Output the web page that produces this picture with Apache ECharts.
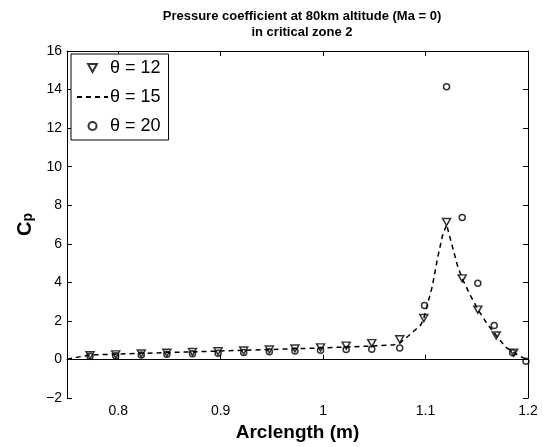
<!DOCTYPE html>
<html>
<head>
<meta charset="utf-8">
<script src="https://cdn.jsdelivr.net/npm/echarts@6/dist/echarts.min.js"></script>
<style>html,body{margin:0;padding:0;background:#fff}#c{width:542px;height:447px}</style>
</head>
<body>
<div id="c"></div>
<script>
var xTicks = [0.8, 0.9, 1.0, 1.1, 1.2];
var theta12X = [0.7725, 0.7975, 0.8225, 0.8475, 0.8725, 0.8975, 0.9225, 0.9475, 0.9725, 0.9975, 1.0225, 1.0475, 1.0748, 1.0983, 1.1205, 1.1358, 1.151, 1.169, 1.186];
var theta12Y = [0.22, 0.27, 0.31, 0.35, 0.39, 0.43, 0.47, 0.52, 0.57, 0.63, 0.72, 0.85, 1.05, 2.15, 7.13, 4.21, 2.59, 1.25, 0.36];
var theta15X = [0.75, 0.7725, 0.7975, 0.8225, 0.8475, 0.8725, 0.8975, 0.9225, 0.9475, 0.9725, 0.9975, 1.0225, 1.0475, 1.0687, 1.0748, 1.085, 1.0954, 1.0983, 1.1066, 1.1115, 1.1164, 1.1205, 1.126, 1.131, 1.1358, 1.144, 1.151, 1.160, 1.169, 1.178, 1.186, 1.2];
var theta15Y = [0.02, 0.24, 0.28, 0.32, 0.36, 0.40, 0.44, 0.48, 0.52, 0.56, 0.60, 0.65, 0.70, 0.76, 0.85, 1.3, 1.8, 2.15, 3.8, 5.2, 6.4, 7.0, 5.9, 4.9, 4.2, 3.3, 2.6, 1.86, 1.25, 0.65, 0.36, -0.05];
var theta20X = [0.7725, 0.7975, 0.8225, 0.8475, 0.8725, 0.8975, 0.9225, 0.9475, 0.9725, 0.9975, 1.0225, 1.0475, 1.0748, 1.099, 1.1205, 1.1358, 1.151, 1.167, 1.185, 1.198];
var theta20Y = [0.17, 0.20, 0.24, 0.27, 0.30, 0.33, 0.37, 0.41, 0.44, 0.48, 0.52, 0.53, 0.60, 2.8, 14.14, 7.36, 3.95, 1.77, 0.35, -0.09];

function pairs(xs, ys) { return xs.map(function (x, i) { return [x, ys[i]]; }); }

var FONT = 'Liberation Sans, Arial, sans-serif';
var chart = echarts.init(document.getElementById('c'), null, {renderer: 'canvas'});
var axisLineStyle = {color: '#000', width: 1};
chart.setOption({
  animation: false,
  backgroundColor: '#fff',
  title: {
    text: 'Pressure coefficient at 80km altitude (Ma = 0)\nin critical zone 2',
    left: 297, top: 3, textAlign: 'center',
    textStyle: {fontFamily: FONT, fontSize: 13, fontWeight: 'bold', color: '#000', lineHeight: 16}
  },
  grid: {left: 67, right: 14, top: 51, bottom: 47, containLabel: false},
  legend: {
    orient: 'vertical', left: 71, top: 54,
    padding: [4, 8, 4, 5], itemGap: 9, itemWidth: 31, itemHeight: 8,
    symbolRotate: 0,
    borderColor: '#000', borderWidth: 1, backgroundColor: '#fff',
    textStyle: {fontFamily: FONT, fontSize: 18, color: '#000', lineHeight: 20, padding: [0, 0, 0, -3]},
    data: [
      {name: 'θ = 12', icon: 'path://M0,0L10,0L5,9Z'},
      {name: 'θ = 15', itemStyle: {opacity: 0}},
      {name: 'θ = 20'}
    ]
  },
  xAxis: [{
    type: 'value', min: 0.75, max: 1.2, position: 'bottom',
    name: 'Arclength (m)', nameLocation: 'middle', nameGap: 21,
    nameTextStyle: {fontFamily: FONT, fontSize: 19, fontWeight: 'bold', color: '#000'},
    axisLine: {show: true, lineStyle: axisLineStyle},
    axisTick: {show: true, inside: true, length: 5, lineStyle: axisLineStyle, customValues: xTicks},
    axisLabel: {show: true, margin: 6, fontFamily: FONT, fontSize: 14, color: '#000', customValues: xTicks},
    splitLine: {show: false}
  }, {
    type: 'value', min: 0.75, max: 1.2, position: 'top',
    axisLine: {show: true, onZero: false, lineStyle: axisLineStyle},
    axisTick: {show: true, inside: true, length: 5, lineStyle: axisLineStyle, customValues: xTicks},
    axisLabel: {show: false},
    splitLine: {show: false}
  }],
  yAxis: [{
    type: 'value', min: -2, max: 16, interval: 2, position: 'left',
    name: '{c|C}{p|p}', nameLocation: 'middle', nameGap: 26, nameRotate: 90,
    nameTextStyle: {
      rich: {
        c: {fontFamily: FONT, fontSize: 20, fontWeight: 'bold', color: '#000', lineHeight: 20, verticalAlign: 'top'},
        p: {fontFamily: FONT, fontSize: 14, fontWeight: 'bold', color: '#000', lineHeight: 14, verticalAlign: 'bottom', padding: [12, 0, 0, 0]}
      }
    },
    axisLine: {show: true, onZero: false, lineStyle: axisLineStyle},
    axisTick: {show: true, inside: true, length: 5, lineStyle: axisLineStyle},
    axisLabel: {show: true, margin: 5, fontFamily: FONT, fontSize: 14, color: '#000',
      formatter: function (v) { return String(v).replace('-', '\u2212'); }},
    splitLine: {show: false}
  }, {
    type: 'value', min: -2, max: 16, interval: 2, position: 'right',
    axisLine: {show: true, onZero: false, lineStyle: axisLineStyle},
    axisTick: {show: true, inside: true, length: 5, lineStyle: axisLineStyle},
    axisLabel: {show: false},
    splitLine: {show: false}
  }],
  series: [{
    name: 'θ = 15', type: 'line', xAxisIndex: 0, yAxisIndex: 0,
    data: pairs(theta15X, theta15Y),
    symbol: 'none', showSymbol: false,
    lineStyle: {color: '#000', width: 1.5, type: [5, 4]},
    itemStyle: {color: '#000'}, z: 2
  }, {
    name: 'θ = 12', type: 'scatter', xAxisIndex: 0, yAxisIndex: 0,
    data: pairs(theta12X, theta12Y),
    symbol: 'triangle', symbolSize: [8, 7], symbolRotate: 180,
    itemStyle: {color: 'transparent', borderColor: '#000', borderWidth: 1.5}, z: 3
  }, {
    name: 'θ = 20', type: 'scatter', xAxisIndex: 0, yAxisIndex: 0,
    data: pairs(theta20X, theta20Y),
    symbol: 'circle', symbolSize: 6,
    itemStyle: {color: 'transparent', borderColor: '#000', borderWidth: 1.5}, z: 3
  }]
});
</script>
</body>
</html>
